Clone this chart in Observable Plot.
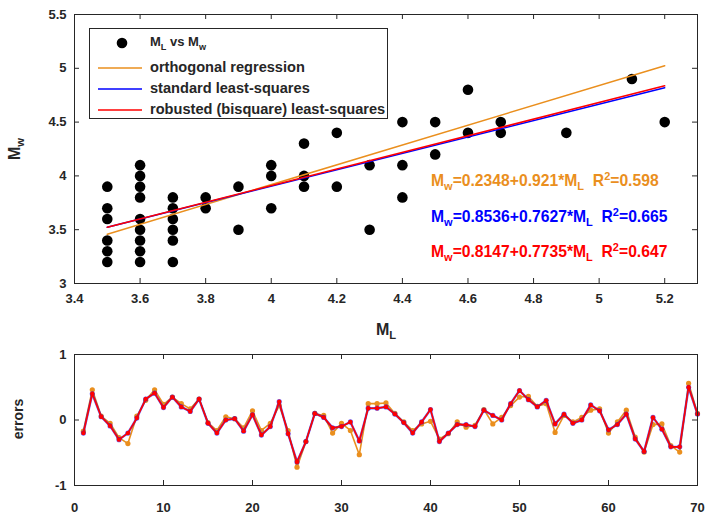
<!DOCTYPE html>
<html>
<head>
<meta charset="utf-8">
<script src="https://cdn.jsdelivr.net/npm/d3@7"></script>
<script src="https://cdn.jsdelivr.net/npm/@observablehq/plot@0.6"></script>
<style>
  body { margin: 0; background: #fff; }
  #wrap { position: relative; width: 706px; height: 516px; background: #fff; overflow: hidden;
          font-family: "Liberation Sans", Arial, Helvetica, sans-serif; font-weight: bold; color: #262626; }
  .abs { position: absolute; white-space: nowrap; }
  sub, sup { font-size: 70%; line-height: 0; }
  #legend { position: absolute; left: 89px; top: 28px; width: 299px; height: 91px; border: 1px solid #262626; background: #fff; box-sizing: border-box; }
</style>
</head>
<body>
<div id="wrap"></div>
<script>
// ---------- data ----------
// scatter: magnitude pairs (M_L, M_w) (coincident points shown once)
const mlValues = [3.5,3.5,3.5,3.5,3.5,3.5,
  3.6,3.6,3.6,3.6,3.6,3.6,3.6,3.6,3.6,
  3.7,3.7,3.7,3.7,3.7,3.7,
  3.8,3.8, 3.9,3.9, 4.0,4.0,4.0, 4.1,4.1,4.1, 4.2,4.2, 4.3,4.3,
  4.4,4.4,4.4, 4.5,4.5, 4.6,4.6, 4.7,4.7, 4.9, 5.1, 5.2];
const mwValues = [3.9,3.7,3.6,3.4,3.3,3.2,
  4.1,4.0,3.9,3.8,3.6,3.5,3.4,3.3,3.2,
  3.8,3.7,3.6,3.5,3.4,3.2,
  3.8,3.7, 3.9,3.5, 4.1,4.0,3.7, 4.3,4.0,3.9, 4.4,3.9, 4.1,3.5,
  4.5,4.1,3.8, 4.5,4.2, 4.8,4.4, 4.5,4.4, 4.4, 4.9, 4.5];

// regression fits
const fitNames = ["orthogonal regression", "standard least-squares", "robusted (bisquare) least-squares"];
const fitIntercepts = [0.2348, 0.8536, 0.8147];
const fitSlopes = [0.921, 0.7627, 0.7735];
const fitR2 = [0.598, 0.665, 0.647];
const fitColors = ["#EA8F1E", "#0000FF", "#FF0000"];
const fitRange = [3.5, 5.2];

// residuals (errors) for observations 1..70
const errorsOrtho = [-0.17,0.46,0.06,-0.05,-0.27,-0.36,0.06,0.30,0.46,0.24,
  0.35,0.25,0.17,0.32,-0.04,-0.16,0.05,0.02,-0.12,0.14,
  -0.16,-0.05,0.22,-0.16,-0.72,-0.33,0.10,0.07,-0.20,-0.05,
  -0.16,-0.53,0.25,0.25,0.26,0.10,-0.03,-0.16,-0.06,-0.02,
  -0.29,-0.21,-0.03,-0.11,-0.08,0.16,-0.06,0.04,0.22,0.35,
  0.36,0.21,0.25,-0.19,0.07,-0.03,0.04,0.15,0.17,-0.20,
  -0.03,0.15,-0.26,-0.49,-0.07,-0.06,-0.39,-0.49,0.56,0.10];
const errorsStd = [-0.20,0.40,0.05,-0.09,-0.30,-0.20,0.03,0.32,0.41,0.19,
  0.35,0.20,0.13,0.32,-0.05,-0.20,0.00,0.02,-0.17,0.08,
  -0.23,-0.10,0.28,-0.21,-0.64,-0.33,0.10,0.04,-0.12,-0.10,
  -0.03,-0.32,0.18,0.18,0.20,0.09,-0.04,-0.20,-0.03,0.16,
  -0.33,-0.20,-0.07,-0.07,-0.10,0.15,0.07,0.00,0.25,0.45,
  0.31,0.20,0.30,-0.06,0.09,-0.05,0.00,0.23,0.14,-0.15,
  -0.07,0.09,-0.29,-0.48,0.04,-0.14,-0.41,-0.41,0.50,0.09];
const errorsRobust = [-0.20,0.40,0.05,-0.09,-0.30,-0.20,0.03,0.32,0.41,0.19,
  0.35,0.20,0.13,0.32,-0.05,-0.20,0.00,0.02,-0.17,0.08,
  -0.23,-0.10,0.28,-0.21,-0.64,-0.33,0.10,0.04,-0.12,-0.10,
  -0.03,-0.32,0.18,0.18,0.20,0.09,-0.04,-0.20,-0.03,0.16,
  -0.33,-0.20,-0.07,-0.07,-0.10,0.15,0.07,0.00,0.25,0.45,
  0.31,0.20,0.30,-0.06,0.09,-0.05,0.00,0.23,0.14,-0.15,
  -0.07,0.09,-0.29,-0.48,0.04,-0.14,-0.41,-0.41,0.50,0.09];

// ticks
const topXTicks = [3.4,3.6,3.8,4,4.2,4.4,4.6,4.8,5,5.2];
const topYTicks = [3,3.5,4,4.5,5,5.5];
const botXTicks = [0,10,20,30,40,50,60,70];
const botYTicks = [-1,0,1];

// ---------- build tables ----------
const points = mlValues.map((x, i) => ({x, y: mwValues[i]}));
const fitLines = fitNames.flatMap((name, k) =>
  fitRange.map(x => ({name, k, x, y: fitIntercepts[k] + fitSlopes[k] * x})));
const errSeries = [errorsOrtho, errorsStd, errorsRobust];
const errData = errSeries.flatMap((arr, k) => arr.map((e, i) => ({k, i: i + 1, e})));

const axisColor = "#262626";
const fontStyle = {fontFamily: '"Liberation Sans", Arial, sans-serif', fontWeight: "bold", fontSize: "13px", color: axisColor, background: "transparent", overflow: "visible"};

const wrap = document.getElementById("wrap");

// MATLAB-like box with inward ticks on all four sides
function frameAxes(xt, yt, padX, fw, fh) {
  const t = 5;
  return [
    Plot.tickX(xt, {x: d => d, insetTop: fh - t, stroke: axisColor}),
    Plot.tickX(xt, {x: d => d, insetBottom: fh - t, stroke: axisColor}),
    Plot.tickY(yt, {y: d => d, insetRight: fw - t, stroke: axisColor}),
    Plot.tickY(yt, {y: d => d, insetLeft: fw - t, stroke: axisColor}),
    Plot.frame({stroke: axisColor, strokeWidth: 1}),
    Plot.axisX(xt, {anchor: "bottom", tickSize: 0, tickPadding: padX, tickFormat: d => String(d), fill: axisColor, label: null}),
    Plot.axisY(yt, {anchor: "left", tickSize: 0, tickPadding: 8, tickFormat: d => String(d), fill: axisColor, label: null})
  ];
}

// top scatter plot
const topChart = Plot.plot({
  width: 706, height: 345,
  marginLeft: 74, marginRight: 9, marginTop: 14, marginBottom: 62,
  style: fontStyle,
  x: {domain: [3.4, 5.3], label: null},
  y: {domain: [3, 5.5], label: null},
  marks: [
    Plot.dot(points, {x: "x", y: "y", r: 5.3, fill: "black", stroke: "none"}),
    Plot.line(fitLines, {x: "x", y: "y", z: "name", stroke: d => fitColors[d.k], strokeWidth: 1.5}),
    ...frameAxes(topXTicks, topYTicks, 10, 623, 269)
  ]
});
topChart.style.position = "absolute"; topChart.style.left = "0px"; topChart.style.top = "0px";
wrap.appendChild(topChart);

// bottom errors plot
const bottomChart = Plot.plot({
  width: 706, height: 176,
  marginLeft: 74, marginRight: 9, marginTop: 14, marginBottom: 31,
  style: fontStyle,
  x: {domain: [0, 70], label: null},
  y: {domain: [-1, 1], label: null},
  marks: [
    Plot.line(errData.filter(d => d.k === 0), {x: "i", y: "e", stroke: fitColors[0], strokeWidth: 1.6}),
    Plot.dot(errData.filter(d => d.k === 0), {x: "i", y: "e", r: 2.6, fill: fitColors[0], stroke: "none"}),
    Plot.line(errData.filter(d => d.k === 1), {x: "i", y: "e", stroke: fitColors[1], strokeWidth: 2.4, strokeOpacity: 0.6}),
    Plot.dot(errData.filter(d => d.k === 1), {x: "i", y: "e", r: 2.6, fill: fitColors[1], fillOpacity: 0.6, stroke: "none"}),
    Plot.line(errData.filter(d => d.k === 2), {x: "i", y: "e", stroke: fitColors[2], strokeWidth: 1.6}),
    Plot.dot(errData.filter(d => d.k === 2), {x: "i", y: "e", r: 2.2, fill: fitColors[2], stroke: "none"}),
    ...frameAxes(botXTicks, botYTicks, 17, 623, 131)
  ]
});
bottomChart.style.position = "absolute"; bottomChart.style.left = "0px"; bottomChart.style.top = "340px";
wrap.appendChild(bottomChart);

// legend
const legend = document.createElement("div");
legend.id = "legend";
let lh = `<svg width="299" height="91" style="position:absolute;left:-1px;top:-1px">
  <circle cx="33" cy="15" r="5.3" fill="black"/>`;
fitNames.forEach((n, k) => {
  const y = 40 + k * 21;
  lh += `<line x1="9" x2="53" y1="${y}" y2="${y}" stroke="${fitColors[k]}" stroke-width="1.5"/>`;
});
lh += `</svg>`;
lh += `<div class="abs" style="left:60px;top:5px;font-size:13px">M<sub>L</sub> vs M<sub>w</sub></div>`;
fitNames.forEach((n, k) => {
  lh += `<div class="abs" style="left:60px;top:${30 + k * 21}px;font-size:14.6px">${n}</div>`;
});
legend.innerHTML = lh;
wrap.appendChild(legend);

// equations
fitNames.forEach((n, k) => {
  const d = document.createElement("div");
  d.className = "abs";
  d.style.left = "431px";
  d.style.top = (172 + k * 35.5) + "px";
  d.style.fontSize = "15.7px";
  d.style.color = fitColors[k];
  d.innerHTML = `M<sub>w</sub>=${fitIntercepts[k]}+${fitSlopes[k]}*M<sub>L</sub>&nbsp;&nbsp;R<sup>2</sup>=${fitR2[k]}`;
  wrap.appendChild(d);
});

// axis labels
const xl = document.createElement("div");
xl.className = "abs"; xl.style.left = "376px"; xl.style.top = "321px"; xl.style.fontSize = "16px";
xl.innerHTML = "M<sub>L</sub>";
wrap.appendChild(xl);

const yl = document.createElement("div");
yl.className = "abs"; yl.style.left = "4px"; yl.style.top = "140px"; yl.style.fontSize = "16px";
yl.style.transform = "rotate(-90deg)"; yl.style.transformOrigin = "center";
yl.innerHTML = "M<sub>w</sub>";
wrap.appendChild(yl);

const el = document.createElement("div");
el.className = "abs"; el.style.left = "-2px"; el.style.top = "411px"; el.style.fontSize = "14px";
el.style.transform = "rotate(-90deg)"; el.style.transformOrigin = "center";
el.textContent = "errors";
wrap.appendChild(el);
</script>
</body>
</html>
